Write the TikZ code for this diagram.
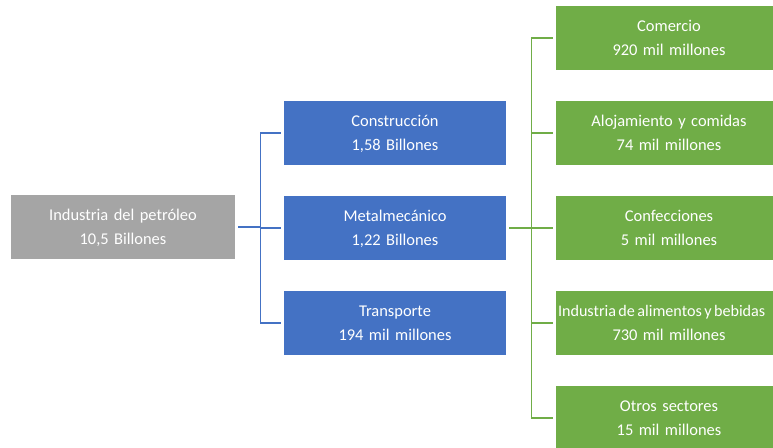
\documentclass[tikz,border=0pt]{standalone}
\usepackage{fontspec}
\setmainfont{Carlito}
\definecolor{rootgray}{HTML}{A5A5A5}
\definecolor{midblue}{HTML}{4472C4}
\definecolor{leafgreen}{HTML}{70AD47}
\begin{document}
\begin{tikzpicture}[x=1bp, y=-1bp]
    \tikzset{
        box/.style = {
            rectangle,
            text = white,
            minimum height = 64bp,
            inner sep = 0pt,
            align = center,
            text height = 11.5bp,
            text depth = 24.5bp,
            font = \fontsize{16.5}{24}\selectfont
        },
        root/.style = {box, fill = rootgray, minimum width = 224bp, text width = 224bp},
        mid/.style = {box, fill = midblue, minimum width = 222bp, text width = 222bp},
        leaf/.style = {box, fill = leafgreen, minimum width = 226bp, text width = 222bp},
        link/.style = {line width = 1.4bp}
    }

    \useasboundingbox (0,0) rectangle (773,448);
    \clip (0,0) rectangle (773,448);

    \node[root] (ind) at (123,227.5) {Industria del petróleo\\10,5 Billones};

    \node[mid] (con) at (395,133) {Construcción\\1,58 Billones};
    \node[mid] (met) at (395,228) {Metalmecánico\\1,22 Billones};
    \node[mid] (tra) at (395,323) {Transporte\\194 mil millones};

    \foreach \txt [count = \i from 0] in {
        Comercio\\920 mil millones,
        Alojamiento y comidas\\74 mil millones,
        Confecciones\\5 mil millones,
        \makebox[222bp][l]{\fontsize{16.2}{24}\selectfont\spaceskip = 0.15em Industria de alimentos y bebidas}\\730 mil millones,
        Otros sectores\\15 mil millones}{
        \node[leaf] (s\i) at (669, 38 + \i * 95) {\txt};
    }

    % ramas azules
    \draw[link, midblue, line width = 2bp] ([xshift = 3bp]ind.east) -- ++(22,0) coordinate (jb);
    \draw[link, midblue] (jb |- con.west) -- (jb |- tra.west);
    \foreach \m in {con, met, tra}{
        \draw[link, midblue] (jb |- \m.west) -- ([xshift = -3bp]\m.west);
    }

    % ramas verdes
    \draw[link, leafgreen, line width = 2bp] ([xshift = 3bp]met.east) -- ++(22,0) coordinate (jg);
    \draw[link, leafgreen] (jg |- s0.west) -- (jg |- s4.west);
    \foreach \i in {0, ..., 4}{
        \draw[link, leafgreen] (jg |- s\i.west) -- ([xshift = -3bp]s\i.west);
    }

\end{tikzpicture}
\end{document}
